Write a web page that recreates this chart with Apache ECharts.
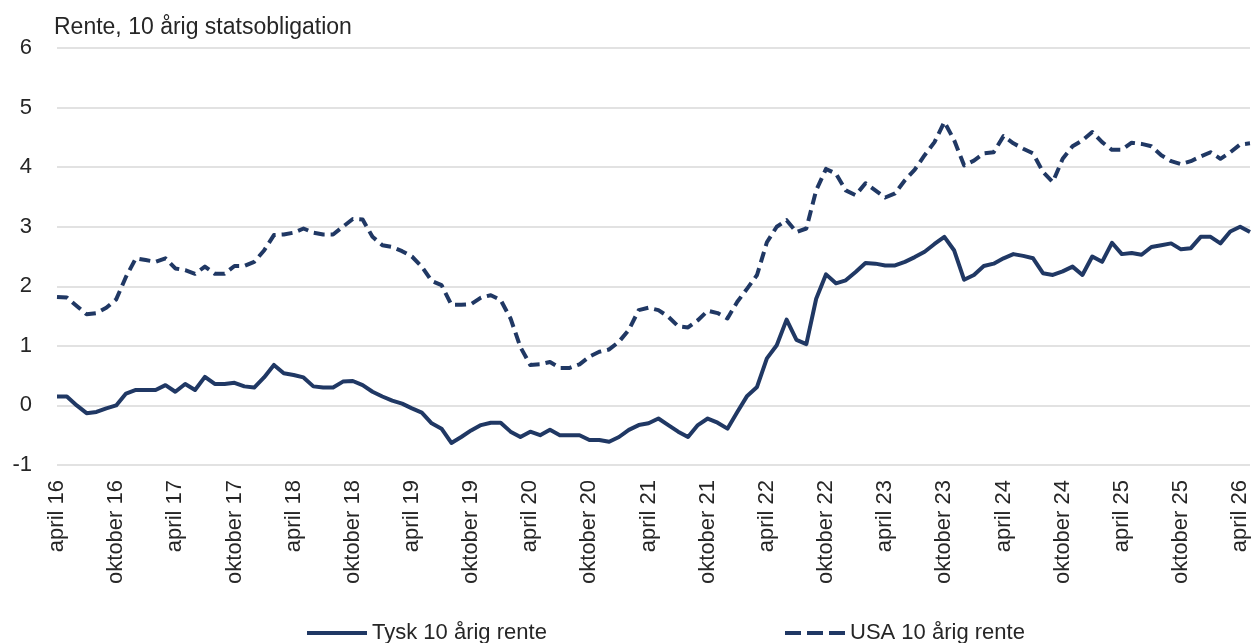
<!DOCTYPE html>
<html>
<head>
<meta charset="utf-8">
<script src="https://cdn.jsdelivr.net/npm/echarts@6/dist/echarts.min.js"></script>
<style>
  html, body { margin: 0; padding: 0; background: #fff; }
  #rente { width: 1253px; height: 643px; }
</style>
</head>
<body>
<div id="rente"></div>
<script>
// maanedsdata fra april 2016
var maaneder = ['januar', 'februar', 'mars', 'april', 'mai', 'juni', 'juli',
                'august', 'september', 'oktober', 'november', 'desember'];
var startAar = 2016, startMnd = 3;

var tysk = [0.15, 0.15, 0.00, -0.13, -0.11, -0.05, 0.00, 0.20, 0.26, 0.26,
            0.26, 0.34, 0.23, 0.36, 0.26, 0.48, 0.36, 0.36, 0.38, 0.32,
            0.30, 0.47, 0.68, 0.54, 0.51, 0.47, 0.32, 0.30, 0.30, 0.40,
            0.41, 0.34, 0.23, 0.15, 0.08, 0.03, -0.05, -0.12, -0.30, -0.39,
            -0.63, -0.53, -0.42, -0.33, -0.29, -0.29, -0.44, -0.53, -0.44, -0.50,
            -0.41, -0.50, -0.50, -0.50, -0.58, -0.58, -0.61, -0.53, -0.41, -0.33,
            -0.30, -0.22, -0.33, -0.44, -0.53, -0.33, -0.22, -0.29, -0.39, -0.11,
            0.16, 0.31, 0.79, 1.01, 1.44, 1.10, 1.03, 1.79, 2.20, 2.05,
            2.10, 2.24, 2.39, 2.38, 2.35, 2.35, 2.41, 2.49, 2.58, 2.71,
            2.83, 2.60, 2.11, 2.19, 2.34, 2.38, 2.47, 2.54, 2.51, 2.47,
            2.22, 2.19, 2.25, 2.33, 2.19, 2.50, 2.41, 2.73, 2.54, 2.56,
            2.53, 2.66, 2.69, 2.72, 2.62, 2.64, 2.83, 2.83, 2.72, 2.92,
            3.00, 2.91];

var usa = [1.82, 1.81, 1.67, 1.53, 1.55, 1.64, 1.78, 2.16, 2.47, 2.44,
           2.41, 2.47, 2.30, 2.27, 2.21, 2.33, 2.21, 2.21, 2.34, 2.34,
           2.41, 2.60, 2.86, 2.87, 2.90, 2.97, 2.90, 2.87, 2.87, 3.00,
           3.13, 3.12, 2.83, 2.69, 2.66, 2.59, 2.50, 2.33, 2.09, 2.02,
           1.69, 1.69, 1.70, 1.81, 1.85, 1.77, 1.46, 0.98, 0.68, 0.69,
           0.73, 0.63, 0.63, 0.69, 0.82, 0.90, 0.94, 1.07, 1.27, 1.60,
           1.64, 1.60, 1.49, 1.33, 1.31, 1.43, 1.59, 1.55, 1.46, 1.74,
           1.96, 2.19, 2.74, 3.00, 3.11, 2.91, 2.97, 3.61, 3.97, 3.89,
           3.61, 3.53, 3.73, 3.61, 3.49, 3.56, 3.78, 3.96, 4.20, 4.42,
           4.76, 4.45, 4.03, 4.11, 4.23, 4.25, 4.52, 4.40, 4.31, 4.23,
           3.92, 3.75, 4.14, 4.35, 4.45, 4.59, 4.42, 4.29, 4.29, 4.41,
           4.39, 4.35, 4.20, 4.10, 4.05, 4.10, 4.18, 4.25, 4.14, 4.25,
           4.38, 4.40];

var kategorier = [];
for (var i = 0; i < tysk.length; i++) {
    var m = startMnd + i;
    var aar = startAar + Math.floor(m / 12);
    kategorier.push(maaneder[m % 12] + ' ' + String(aar).slice(2));
}

var navy = '#203864';
var tekst = '#262626';
var font = 'Liberation Sans, Arial, sans-serif';

// legend-ikoner: hel linje og tre streker
var ikonHel = 'path://M0,0h60v4h-60z';
var ikonStiplet = 'path://M0,0h16v4h-16z M22,0h16v4h-16z M44,0h16v4h-16z';

var chart = echarts.init(document.getElementById('rente'));

option = {
    animation: false,
    title: {
        text: 'Rente, 10 årig statsobligation',
        left: 49,
        top: 11,
        textStyle: {
            fontFamily: font,
            fontSize: 23,
            fontWeight: 'normal',
            color: tekst
        }
    },
    legend: [
        {
            data: [{ name: 'Tysk 10 årig rente', icon: ikonHel }],
            left: 302,
            top: 617,
            itemWidth: 60,
            itemHeight: 4,
            itemGap: 4,
            textStyle: { fontFamily: font, fontSize: 22, color: tekst }
        },
        {
            data: [{ name: 'USA 10 årig rente', icon: ikonStiplet }],
            left: 780,
            top: 617,
            itemWidth: 60,
            itemHeight: 4,
            itemGap: 4,
            textStyle: { fontFamily: font, fontSize: 22, color: tekst }
        }
    ],
    grid: {
        left: 57,
        right: 3,
        top: 48,
        bottom: 178,
        containLabel: false
    },
    xAxis: {
        type: 'category',
        data: kategorier,
        boundaryGap: false,
        axisLine: { show: false },
        axisTick: { show: false },
        axisLabel: {
            interval: 5,
            rotate: 90,
            margin: 15,
            fontFamily: font,
            fontSize: 22,
            color: tekst
        }
    },
    yAxis: {
        type: 'value',
        min: -1,
        max: 6,
        interval: 1,
        axisLine: { show: false },
        axisTick: { show: false },
        axisLabel: {
            margin: 25,
            fontFamily: font,
            fontSize: 22,
            color: tekst
        },
        splitLine: { lineStyle: { color: '#d9d9d9', width: 1.5 } }
    },
    series: [
        {
            name: 'Tysk 10 årig rente',
            type: 'line',
            data: tysk,
            symbol: 'none',
            color: navy,
            lineStyle: { width: 4, color: navy, join: 'round' }
        },
        {
            name: 'USA 10 årig rente',
            type: 'line',
            data: usa,
            symbol: 'none',
            color: navy,
            lineStyle: { width: 4, color: navy, type: [11, 6], join: 'round' }
        }
    ]
};

chart.setOption(option);
</script>
</body>
</html>
